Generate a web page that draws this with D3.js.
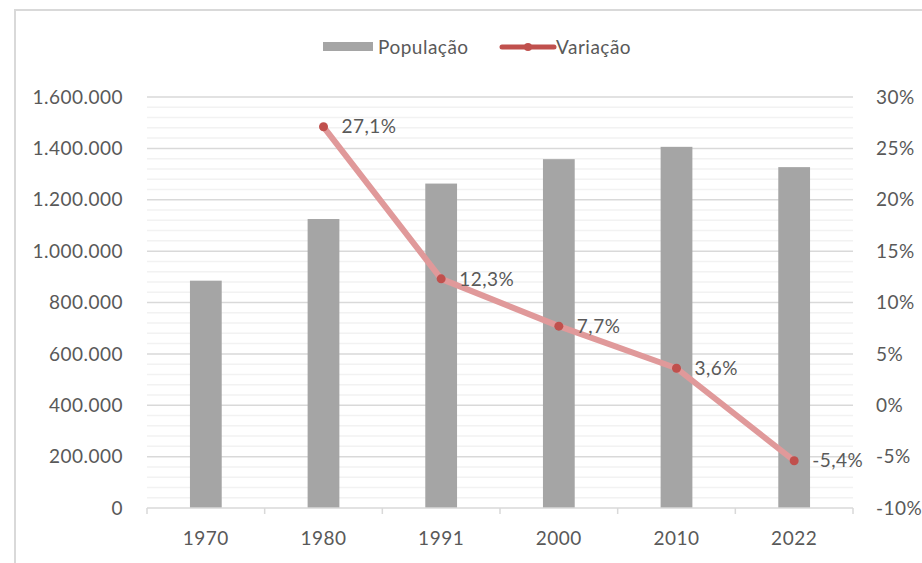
<!DOCTYPE html>
<html>
<head>
<meta charset="utf-8">
<script src="https://cdn.jsdelivr.net/npm/d3@7"></script>
<style>
  body { margin: 0; background: #fff; }
  text { font-family: Lato, "Open Sans", sans-serif; fill: #595959; font-size: 19px; letter-spacing: 0.5px; }
</style>
</head>
<body>
<div id="chart"></div>
<script>
// data
var years = ['1970', '1980', '1991', '2000', '2010', '2022'];
var populacao = [885000, 1125000, 1263000, 1358000, 1406000, 1327000];
var variacao = [null, 27.1, 12.3, 7.7, 3.6, -5.4];
var leftTicks = [0, 200000, 400000, 600000, 800000, 1000000, 1200000, 1400000, 1600000];
var rightTicks = [-10, -5, 0, 5, 10, 15, 20, 25, 30];

var width = 922;
var height = 563;
var margin = { top: 97, right: 69, bottom: 55, left: 147 };

var svg = d3.select('#chart')
    .append('svg')
    .attr('width', width)
    .attr('height', height);

// chart frame (runs off right and bottom of the picture)
svg.append('rect')
    .attr('x', 15).attr('y', 10)
    .attr('width', width).attr('height', height)
    .attr('fill', 'none')
    .attr('stroke', '#d9d9d9')
    .attr('stroke-width', 2);

var x = d3.scaleBand()
    .domain(years)
    .range([margin.left, width - margin.right])
    .paddingInner(0.73)
    .paddingOuter(0.365);

var xOuter = d3.scaleBand()
    .domain(years)
    .range([margin.left, width - margin.right]);

var yLeft = d3.scaleLinear()
    .domain([0, 1600000])
    .range([height - margin.bottom, margin.top]);

var yRight = d3.scaleLinear()
    .domain([-10, 30])
    .range([height - margin.bottom, margin.top]);

// minor gridlines
var minor = d3.range(0, 1600001, 40000);
svg.append('g').selectAll('line')
    .data(minor.filter(function(d) { return d % 200000 !== 0; }))
    .enter()
    .append('line')
    .attr('x1', margin.left).attr('x2', width - margin.right)
    .attr('y1', function(d) { return yLeft(d); })
    .attr('y2', function(d) { return yLeft(d); })
    .attr('stroke', '#f2f2f2')
    .attr('stroke-width', 1.5);

// major gridlines
svg.append('g').selectAll('line')
    .data(leftTicks.slice(1))
    .enter()
    .append('line')
    .attr('x1', margin.left).attr('x2', width - margin.right)
    .attr('y1', function(d) { return yLeft(d); })
    .attr('y2', function(d) { return yLeft(d); })
    .attr('stroke', '#d9d9d9')
    .attr('stroke-width', 1.5);

// bars
svg.append('g').selectAll('rect')
    .data(populacao)
    .enter()
    .append('rect')
    .attr('x', function(d, i) { return x(years[i]); })
    .attr('y', function(d) { return yLeft(d); })
    .attr('width', x.bandwidth())
    .attr('height', function(d) { return yLeft(0) - yLeft(d); })
    .attr('fill', '#a5a5a5');

// x axis line + boundary ticks
var base = yLeft(0);
svg.append('line')
    .attr('x1', margin.left).attr('x2', width - margin.right)
    .attr('y1', base).attr('y2', base)
    .attr('stroke', '#d9d9d9').attr('stroke-width', 1.5);

var bounds = years.map(function(d) { return xOuter(d); }).concat([width - margin.right]);
svg.append('g').selectAll('line')
    .data(bounds)
    .enter()
    .append('line')
    .attr('x1', function(d) { return d; }).attr('x2', function(d) { return d; })
    .attr('y1', base).attr('y2', base + 6)
    .attr('stroke', '#d9d9d9').attr('stroke-width', 1.5);

svg.append('g').selectAll('text')
    .data(years)
    .enter()
    .append('text')
    .attr('x', function(d) { return xOuter(d) + xOuter.bandwidth() / 2; })
    .attr('y', 545)
    .attr('text-anchor', 'middle')
    .text(function(d) { return d; });

// left axis labels
var fmtPop = function(d) { return d3.format(',')(d).replace(/,/g, '.'); };
svg.append('g').selectAll('text')
    .data(leftTicks)
    .enter()
    .append('text')
    .attr('x', 123)
    .attr('y', function(d) { return yLeft(d); })
    .attr('dy', '0.35em')
    .attr('text-anchor', 'end')
    .text(fmtPop);

// right axis labels
svg.append('g').selectAll('text')
    .data(rightTicks)
    .enter()
    .append('text')
    .attr('x', 876)
    .attr('y', function(d) { return yRight(d); })
    .attr('dy', '0.35em')
    .attr('text-anchor', 'start')
    .text(function(d) { return d + '%'; });

// line series
var pts = [];
variacao.forEach(function(v, i) {
    if (v !== null) pts.push({ year: years[i], v: v });
});
var cx = function(d) { return xOuter(d.year) + xOuter.bandwidth() / 2; };

var line = d3.line()
    .x(cx)
    .y(function(d) { return yRight(d.v); });

svg.append('path')
    .datum(pts)
    .attr('d', line)
    .attr('fill', 'none')
    .attr('stroke', '#e0999a')
    .attr('stroke-width', 6)
    .attr('stroke-linejoin', 'round')
    .attr('stroke-linecap', 'round');

svg.append('g').selectAll('circle')
    .data(pts)
    .enter()
    .append('circle')
    .attr('cx', cx)
    .attr('cy', function(d) { return yRight(d.v); })
    .attr('r', 4.5)
    .attr('fill', '#c0504d');

svg.append('g').selectAll('text')
    .data(pts)
    .enter()
    .append('text')
    .attr('x', function(d) { return cx(d) + 18; })
    .attr('y', function(d) { return yRight(d.v); })
    .attr('dy', '0.35em')
    .text(function(d) { return d.v.toFixed(1).replace('.', ',') + '%'; });

// legend
var lg = svg.append('g');
lg.append('rect')
    .attr('x', 323).attr('y', 42)
    .attr('width', 50).attr('height', 9)
    .attr('fill', '#a5a5a5');
lg.append('text')
    .attr('x', 378).attr('y', 47).attr('dy', '0.35em')
    .text('População');
lg.append('line')
    .attr('x1', 502).attr('x2', 554)
    .attr('y1', 47).attr('y2', 47)
    .attr('stroke', '#c0504d').attr('stroke-width', 5)
    .attr('stroke-linecap', 'round');
lg.append('circle')
    .attr('cx', 528).attr('cy', 47).attr('r', 4)
    .attr('fill', '#c0504d');
lg.append('text')
    .attr('x', 556).attr('y', 47).attr('dy', '0.35em')
    .text('Variação');
</script>
</body>
</html>
